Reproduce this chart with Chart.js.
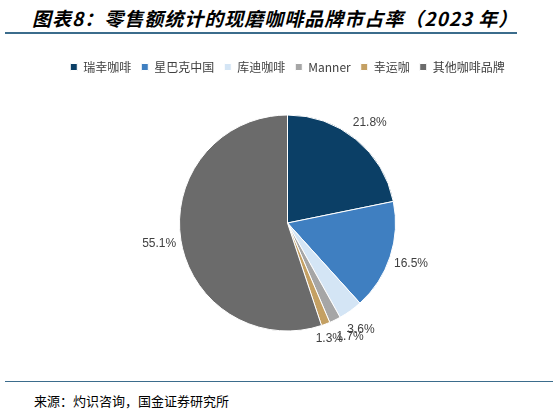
<!DOCTYPE html>
<html><head><meta charset="utf-8">
<script src="https://cdn.jsdelivr.net/npm/chart.js@4"></script>
<style>
body{margin:0;width:559px;height:414px;background:#fff;font-family:"Noto Sans CJK SC",sans-serif;position:relative;overflow:hidden}
#title{position:absolute;left:32px;top:4px;font-size:19px;font-weight:bold;font-style:italic;color:#000;letter-spacing:1px}
#tl{position:absolute;left:5px;top:32px;width:512px;height:2px;background:#3b6c8c}
#bl{position:absolute;left:5px;top:381px;width:548px;height:1px;background:#3b6c8c}
#src{position:absolute;left:34px;top:391px;font-size:13px;color:#000}
#wrap{position:absolute;left:0;top:51px;width:559px;height:330px}
</style></head><body>
<div id="title">图表8：零售额统计的现磨咖啡品牌市占率（2023 年）</div>
<div id="tl"></div>
<div id="wrap"><canvas id="c"></canvas></div>
<div id="bl"></div>
<div id="src">来源：灼识咨询，国金证券研究所</div>
<script>
// 品牌与市占率(%)
const brands = ["瑞幸咖啡", "星巴克中国", "库迪咖啡", "Manner", "幸运咖", "其他咖啡品牌"];
const shares = [21.8, 16.5, 3.6, 1.7, 1.3, 55.1];
const colors = ["#0b3f66", "#3f7fc1", "#d4e5f5", "#a6a6a6", "#c4a063", "#6b6b6b"];

// 饼图外侧百分比标签
const outLabels = {
  id: "outLabels",
  afterDatasetsDraw(chart) {
    const ctx = chart.ctx;
    ctx.save();
    ctx.font = "12px Arial";
    ctx.fillStyle = "#404040";
    ctx.textAlign = "center";
    ctx.textBaseline = "middle";
    chart.getDatasetMeta(0).data.forEach((arc, i) => {
      const mid = (arc.startAngle + arc.endAngle) / 2;
      let r = arc.outerRadius + 22;
      let dx = 0, dy = 0;
      if (i === 2) { r = arc.outerRadius + 18; dy = 4; }
      if (i === 3) { r = arc.outerRadius + 16; dx = 8; dy = 2; }
      if (i === 4) { r = arc.outerRadius + 16; dx = -2; }
      const x = arc.x + Math.cos(mid) * r + dx;
      const y = arc.y + Math.sin(mid) * r + dy;
      ctx.fillText(shares[i].toFixed(1) + "%", x, y);
    });
    ctx.restore();
  }
};

new Chart(document.getElementById("c"), {
  type: "pie",
  data: {
    labels: brands,
    datasets: [{ data: shares, backgroundColor: colors, borderColor: "#fff", borderWidth: 1, radius: 108 }]
  },
  options: {
    responsive: true,
    maintainAspectRatio: false,
    animation: false,
    layout: { padding: { top: 0, bottom: 18, left: 46, right: 30 } },
    plugins: {
      tooltip: { enabled: false },
      legend: {
        position: "top",
        labels: {
          boxWidth: 7, boxHeight: 7, padding: 10,
          font: { size: 12, family: "Noto Sans CJK SC" }, color: "#404040"
        }
      }
    }
  },
  plugins: [outLabels]
});
</script>
</body></html>
